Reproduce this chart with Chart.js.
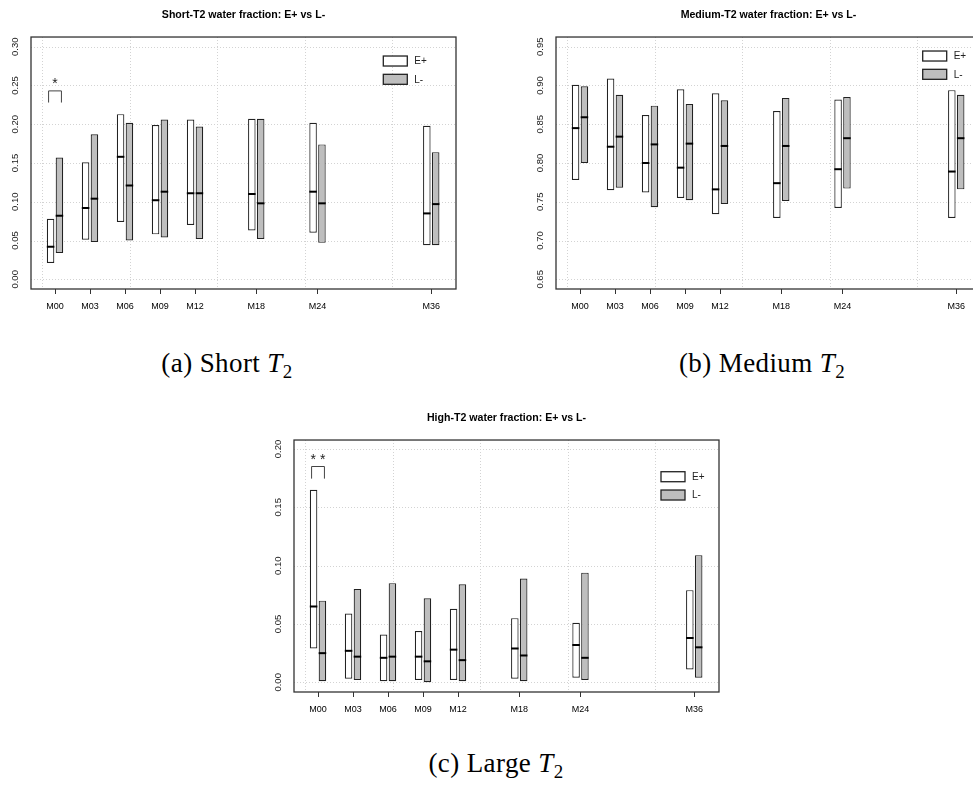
<!DOCTYPE html>
<html lang="en">
<head>
<meta charset="UTF-8">
<script src="https://cdn.jsdelivr.net/npm/chart.js@4.4.0/dist/chart.umd.min.js"></script>
<title>T2 water fractions: E+ vs L-</title>
<style>
    html, body { margin: 0; padding: 0; background: #fff; overflow: hidden; }
    body { width: 973px; height: 791px; position: relative; }
    canvas { position: absolute; }
    .cap {
        position: absolute; width: 300px; text-align: center;
        font-family: "Liberation Serif", serif; font-size: 27px; color: #000;
        line-height: 30px; white-space: nowrap; letter-spacing: 0.4px;
    }
    .cap sub { font-size: 70%; vertical-align: -0.3em; line-height: 0; }
</style>
</head>
<body>
<canvas id="shortCanvas" width="470" height="314" style="left:0px; top:0px;"></canvas>
<canvas id="mediumCanvas" width="470" height="314" style="left:525px; top:0px;"></canvas>
<canvas id="highCanvas" width="470" height="314" style="left:263px; top:403px;"></canvas>
<div class="cap" style="left:77px; top:348px;">(a) Short <i>T</i><sub>2</sub></div>
<div class="cap" style="left:612px; top:348px;">(b) Medium <i>T</i><sub>2</sub></div>
<div class="cap" style="left:346px; top:748px;">(c) Large <i>T</i><sub>2</sub></div>
<script>
// time points and where they sit on the x axis
var months = ['M00', 'M03', 'M06', 'M09', 'M12', 'M18', 'M24', 'M36'];
var monthPos = [1, 2, 3, 4, 5, 6.75, 8.5, 11.75];
var gridPos = [0.64, 3.14, 5.64, 8.14, 10.64];
var groups = ['E+', 'L-'];

// short T2
var shortTicks = [0, 0.05, 0.10, 0.15, 0.20, 0.25, 0.30];
var shortEMin = [0.021, 0.051, 0.074, 0.058, 0.070, 0.063, 0.060, 0.044];
var shortEMax = [0.078, 0.151, 0.213, 0.199, 0.206, 0.207, 0.202, 0.198];
var shortEMed = [0.042, 0.092, 0.158, 0.102, 0.111, 0.110, 0.113, 0.085];
var shortLMin = [0.034, 0.048, 0.050, 0.054, 0.052, 0.052, 0.047, 0.044];
var shortLMax = [0.157, 0.187, 0.202, 0.206, 0.197, 0.207, 0.174, 0.164];
var shortLMed = [0.082, 0.104, 0.121, 0.113, 0.111, 0.098, 0.098, 0.097];

// medium T2
var mediumTicks = [0.65, 0.70, 0.75, 0.80, 0.85, 0.90, 0.95];
var mediumEMin = [0.778, 0.765, 0.762, 0.755, 0.734, 0.729, 0.742, 0.729];
var mediumEMax = [0.901, 0.909, 0.862, 0.895, 0.890, 0.867, 0.882, 0.894];
var mediumEMed = [0.845, 0.821, 0.800, 0.794, 0.766, 0.774, 0.792, 0.789];
var mediumLMin = [0.800, 0.768, 0.743, 0.752, 0.747, 0.751, 0.767, 0.766];
var mediumLMax = [0.899, 0.888, 0.874, 0.876, 0.881, 0.884, 0.885, 0.888];
var mediumLMed = [0.859, 0.834, 0.824, 0.825, 0.822, 0.822, 0.832, 0.832];

// high T2
var highTicks = [0, 0.05, 0.10, 0.15, 0.20];
var highEMin = [0.029, 0.003, 0.001, 0.002, 0.002, 0.003, 0.004, 0.011];
var highEMax = [0.165, 0.059, 0.041, 0.044, 0.063, 0.055, 0.051, 0.079];
var highEMed = [0.065, 0.027, 0.021, 0.022, 0.028, 0.029, 0.032, 0.038];
var highLMin = [0.001, 0.002, 0.001, 0.000, 0.001, 0.001, 0.002, 0.004];
var highLMax = [0.070, 0.080, 0.085, 0.072, 0.084, 0.089, 0.094, 0.109];
var highLMed = [0.025, 0.022, 0.022, 0.018, 0.019, 0.023, 0.021, 0.030];

// significance marks: [foot, bar, star] heights at M00
var shortSig = [0.228, 0.243, 0.255];
var highSig = [0.1746, 0.185, 0.193];

var boxFill = ['#ffffff', '#bebebe'];

function pairs(lo, hi) {
    return monthPos.map(function (p, i) { return {x: p, y: [lo[i], hi[i]]}; });
}

var decor = {
    id: 'decor',
    beforeDatasetsDraw: function (chart) {
        var ctx = chart.ctx, a = chart.chartArea;
        var xs = chart.scales.x, ys = chart.scales.y;
        ctx.save();
        ctx.strokeStyle = '#d3d3d3';
        ctx.lineWidth = 1;
        ctx.setLineDash([1, 2]);
        ctx.beginPath();
        gridPos.forEach(function (v) {
            var px = Math.round(xs.getPixelForValue(v)) + 0.5;
            ctx.moveTo(px, a.top); ctx.lineTo(px, a.bottom);
        });
        ys.ticks.forEach(function (t) {
            var py = Math.round(ys.getPixelForValue(t.value)) + 0.5;
            ctx.moveTo(a.left, py); ctx.lineTo(a.right, py);
        });
        ctx.stroke();
        ctx.restore();
    },
    afterDatasetsDraw: function (chart, args, o) {
        var ctx = chart.ctx, a = chart.chartArea;
        var ys = chart.scales.y;
        ctx.save();
        // medians
        ctx.strokeStyle = '#000';
        ctx.lineWidth = 2;
        chart.data.datasets.forEach(function (ds, di) {
            var meta = chart.getDatasetMeta(di);
            meta.data.forEach(function (el, i) {
                var py = ys.getPixelForValue(ds.medians[i]);
                ctx.beginPath();
                ctx.moveTo(el.x - el.width / 2, py);
                ctx.lineTo(el.x + el.width / 2, py);
                ctx.stroke();
            });
        });
        // frame
        ctx.strokeStyle = '#333';
        ctx.lineWidth = 1.3;
        ctx.strokeRect(a.left, a.top, a.right - a.left, a.bottom - a.top);
        // legend
        ctx.font = '10px "Liberation Sans", Arial, sans-serif';
        ctx.textBaseline = 'middle';
        ctx.textAlign = 'left';
        groups.forEach(function (g, i) {
            var bx = a.right - o.legendDx, by = a.top + o.legendDy + i * 18.3;
            ctx.fillStyle = boxFill[i];
            ctx.fillRect(bx, by, 24, 10);
            ctx.strokeStyle = '#222';
            ctx.lineWidth = 1.3;
            ctx.strokeRect(bx, by, 24, 10);
            ctx.fillStyle = '#222';
            ctx.fillText(g, bx + 31, by + 5.5);
        });
        // significance bracket
        if (o.sig) {
            var m0 = chart.getDatasetMeta(0).data[0], m1 = chart.getDatasetMeta(1).data[0];
            var x0 = m0.x - 2, x1 = m1.x + 2;
            var yf = ys.getPixelForValue(o.sig[0]), yb = ys.getPixelForValue(o.sig[1]);
            ctx.strokeStyle = '#444';
            ctx.lineWidth = 1;
            ctx.beginPath();
            ctx.moveTo(x0, yf); ctx.lineTo(x0, yb); ctx.lineTo(x1, yb); ctx.lineTo(x1, yf);
            ctx.stroke();
            ctx.fillStyle = '#222';
            ctx.font = '14px "Liberation Sans", Arial, sans-serif';
            ctx.textAlign = 'center';
            ctx.fillText(o.sigLabel, (x0 + x1) / 2, ys.getPixelForValue(o.sig[2]) + 3);
        }
        ctx.restore();
    }
};

function makeChart(id, title, yMin, yMax, yTicks, eLo, eHi, eMed, lLo, lHi, lMed, extra) {
    return new Chart(document.getElementById(id), {
        type: 'bar',
        data: {
            datasets: [
                {label: groups[0], data: pairs(eLo, eHi), medians: eMed,
                 backgroundColor: boxFill[0], borderColor: '#222', borderWidth: 1.2, borderSkipped: false},
                {label: groups[1], data: pairs(lLo, lHi), medians: lMed,
                 backgroundColor: boxFill[1], borderColor: '#222', borderWidth: 1.2, borderSkipped: false}
            ]
        },
        options: {
            responsive: false,
            animation: false,
            categoryPercentage: 0.506,
            barPercentage: 0.85,
            layout: {padding: {left: 0, right: 14, top: 0, bottom: 0}},
            plugins: {
                legend: {display: false},
                tooltip: {enabled: false},
                title: {
                    display: true, text: title, fullSize: false, color: '#000',
                    font: {family: '"Liberation Sans", Arial, sans-serif', size: 10.6, weight: 'bold'},
                    padding: {top: 9, bottom: 15.3}
                },
                decor: extra
            },
            scales: {
                x: {
                    type: 'linear', min: 0.314, max: 12.457, offset: false,
                    afterBuildTicks: function (s) { s.ticks = monthPos.map(function (v) { return {value: v}; }); },
                    afterFit: function (s) { s.height = 25; },
                    grid: {display: true, drawOnChartArea: false, drawTicks: true, tickLength: 5, color: '#333', offset: false},
                    border: {display: false},
                    ticks: {
                        autoSkip: false, maxRotation: 0, padding: 7, color: '#000',
                        font: {family: '"Liberation Sans", Arial, sans-serif', size: 9},
                        callback: function (v, i) { return months[i]; }
                    }
                },
                y: {
                    type: 'linear', min: yMin, max: yMax,
                    afterBuildTicks: function (s) { s.ticks = yTicks.map(function (v) { return {value: v}; }); },
                    afterFit: function (s) { s.width = 31; },
                    grid: {display: false, drawTicks: false},
                    border: {display: false},
                    ticks: {
                        minRotation: 90, maxRotation: 90, crossAlign: 'center', padding: 6.5, color: '#222',
                        font: {family: '"Liberation Sans", Arial, sans-serif', size: 9.5},
                        callback: function (v) { return v.toFixed(2); }
                    }
                }
            }
        },
        plugins: [decor]
    });
}

makeChart('shortCanvas', 'Short-T2 water fraction: E+ vs L-', -0.0125, 0.3125, shortTicks,
    shortEMin, shortEMax, shortEMed, shortLMin, shortLMax, shortLMed,
    {legendDx: 72.7, legendDy: 19, sig: shortSig, sigLabel: '*'});
makeChart('mediumCanvas', 'Medium-T2 water fraction: E+ vs L-', 0.6375, 0.9625, mediumTicks,
    mediumEMin, mediumEMax, mediumEMed, mediumLMin, mediumLMax, mediumLMed,
    {legendDx: 58.3, legendDy: 14, sig: null});
makeChart('highCanvas', 'High-T2 water fraction: E+ vs L-', -0.0083, 0.2077, highTicks,
    highEMin, highEMax, highEMed, highLMin, highLMax, highLMed,
    {legendDx: 58, legendDy: 31.7, sig: highSig, sigLabel: '* *'});
</script>
</body>
</html>
